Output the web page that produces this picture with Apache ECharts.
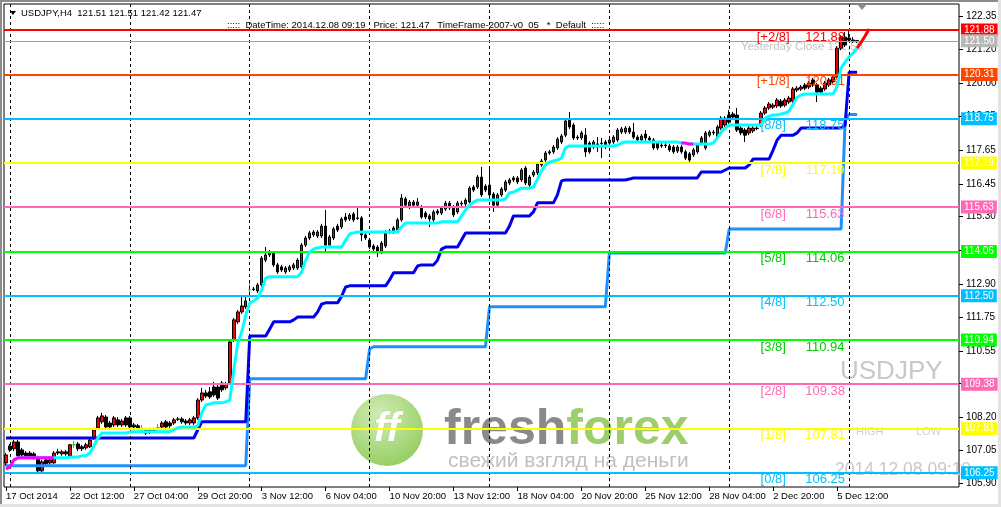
<!DOCTYPE html>
<html><head><meta charset="utf-8">
<script src="https://cdn.jsdelivr.net/npm/echarts@6/dist/echarts.min.js"></script>
<style>html,body{margin:0;padding:0;background:#fff;overflow:hidden}#c{width:1001px;height:507px}</style>
</head><body><div id="c"></div>
<script>
// ---------- data ----------
const xTickLabels = ['17 Oct 2014','22 Oct 12:00','27 Oct 04:00','29 Oct 20:00','3 Nov 12:00','6 Nov 04:00','10 Nov 20:00','13 Nov 12:00','18 Nov 04:00','20 Nov 20:00','25 Nov 12:00','28 Nov 04:00','2 Dec 20:00','5 Dec 12:00'];
const xTickEvery = 16;
const weekSeparators = [1, 31, 61, 91, 121, 151, 181, 211];
const yTicks = [105.90, 107.05, 108.20, 109.40, 110.55, 111.75, 112.90, 114.10, 115.30, 116.45, 117.65, 118.85, 120.00, 121.20, 122.35];
const slotCount = 239;

// [open, close, low, high]
const ohlc = [
[106.60,106.88,106.50,106.95],[107.20,107.06,106.99,107.27],[107.10,107.34,107.02,107.41],[107.34,106.85,106.78,107.41],
[107.06,106.88,106.81,107.13],[106.95,106.85,106.78,107.02],[106.95,106.81,106.74,107.02],[106.92,106.78,106.71,106.99],
[106.74,106.32,106.21,106.85],[106.32,106.64,106.21,106.71],[106.71,106.57,106.50,106.78],[106.60,106.71,106.53,106.78],
[106.60,106.95,106.57,107.02],[106.99,106.95,106.88,107.10],[106.92,106.99,106.85,107.06],[106.99,106.92,106.85,107.06],
[106.85,107.24,106.81,107.27],[107.24,107.24,107.13,107.38],[107.27,107.10,107.02,107.34],[107.17,107.10,107.02,107.24],
[107.13,107.24,107.06,107.31],[107.17,107.41,107.13,107.48],[107.48,107.77,107.41,107.84],[107.84,108.19,107.77,108.26],
[108.05,108.26,107.98,108.37],[108.22,107.87,107.80,108.29],[108.01,107.87,107.80,108.08],[107.94,108.19,107.87,108.26],
[108.12,107.94,107.87,108.22],[107.94,108.08,107.87,108.15],[108.19,107.94,107.87,108.26],[108.19,107.87,107.80,108.26],
[107.94,107.87,107.80,108.01],[107.91,107.84,107.77,107.98],[107.77,107.77,107.66,107.94],[107.77,107.66,107.59,107.84],
[107.77,107.70,107.62,107.84],[107.77,107.73,107.66,107.84],[107.84,107.84,107.70,107.98],[107.87,108.01,107.80,108.08],
[108.05,107.87,107.80,108.12],[108.01,107.91,107.84,108.08],[108.01,108.12,107.94,108.19],[108.15,108.14,108.08,108.22],
[108.15,108.05,107.98,108.22],[108.08,108.01,107.94,108.15],[108.01,108.12,107.94,108.19],[108.01,108.19,107.94,108.26],
[108.19,108.82,108.12,108.89],[108.82,109.07,108.75,109.25],[109.07,108.96,108.89,109.18],[109.11,108.93,108.86,109.28],
[109.28,109.00,108.93,109.46],[109.28,108.89,108.82,109.35],[109.42,109.18,109.11,109.49],[109.25,109.39,109.18,109.46],
[109.42,110.87,109.35,110.94],[110.94,111.65,110.87,111.72],[111.58,111.93,111.51,112.00],[111.93,112.14,111.86,112.49],
[112.11,112.32,112.04,112.46],[112.71,112.71,112.60,112.99],[112.74,112.72,112.67,112.81],[112.67,112.88,112.60,112.95],
[112.88,113.83,112.81,113.90],[113.76,113.94,113.69,114.22],[113.94,114.05,113.87,114.12],[114.01,113.59,113.52,114.08],
[113.59,113.34,113.27,113.66],[113.52,113.41,113.34,113.59],[113.34,113.48,113.27,113.55],[113.41,113.52,113.34,113.59],
[113.48,113.59,113.41,113.66],[113.48,113.76,113.41,113.83],[113.52,114.29,113.45,114.36],[114.29,114.54,114.22,114.61],
[114.54,114.72,114.47,114.79],[114.65,114.75,114.58,114.82],[114.61,114.75,114.54,114.82],[114.61,114.96,114.54,115.04],
[114.96,114.29,114.05,115.53],[114.29,114.58,114.22,114.65],[114.54,114.86,114.47,114.93],[114.96,114.82,114.75,115.04],
[114.93,115.21,114.86,115.28],[115.28,115.18,115.11,115.42],[115.21,115.35,115.14,115.42],[115.39,115.18,115.11,115.46],
[115.25,115.23,115.18,115.63],[115.25,114.65,114.43,115.32],[114.65,114.54,114.47,114.72],[114.47,114.22,114.15,114.54],
[114.26,114.15,114.08,114.33],[114.22,114.05,113.87,114.29],[114.05,114.36,113.98,114.43],[114.26,114.75,114.19,114.82],
[114.79,114.75,114.68,114.86],[114.75,114.89,114.68,114.96],[114.82,115.18,114.75,115.25],[115.18,115.95,115.11,116.09],
[115.92,115.70,115.63,115.99],[115.63,115.81,115.56,115.88],[115.81,115.70,115.63,115.88],[115.70,115.81,115.63,115.95],
[115.63,115.28,115.21,115.70],[115.42,115.28,115.21,115.49],[115.32,115.21,114.93,115.39],[115.18,115.46,115.11,115.53],
[115.49,115.42,115.35,115.56],[115.42,115.60,115.35,115.67],[115.56,115.77,115.49,115.85],[115.77,115.60,115.53,115.85],
[115.63,115.35,115.28,115.70],[115.46,115.77,115.39,115.85],[115.77,115.74,115.67,115.85],[115.74,115.88,115.67,115.95],
[115.81,116.30,115.74,116.37],[116.34,116.23,116.16,116.41],[116.34,116.69,116.27,116.76],[116.69,116.06,115.99,117.05],
[116.37,116.23,116.16,116.44],[116.41,116.06,115.95,117.05],[116.09,115.70,115.46,116.16],[115.70,116.06,115.63,116.13],
[116.06,116.27,115.99,116.34],[116.23,116.52,116.16,116.59],[116.48,116.59,116.41,116.66],[116.66,116.59,116.52,116.73],
[116.66,116.52,116.44,116.73],[116.59,116.94,116.52,117.01],[117.01,116.48,116.41,117.08],[116.41,116.69,116.34,116.76],
[116.76,116.87,116.69,116.94],[116.84,117.15,116.76,117.22],[117.12,117.26,117.05,117.33],[117.29,117.54,117.22,117.61],
[117.58,117.54,117.47,117.65],[117.58,117.75,117.51,117.82],[117.72,118.03,117.65,118.10],[117.93,118.14,117.86,118.21],
[118.17,118.67,118.10,118.74],[118.70,118.46,118.39,118.99],[118.53,118.07,118.00,118.60],[118.10,118.07,118.00,118.17],
[118.07,118.25,118.00,118.32],[118.17,117.58,117.40,118.42],[117.89,117.58,117.51,117.96],[117.75,117.93,117.68,118.00],
[117.86,117.75,117.58,118.10],[117.89,117.88,117.36,118.07],[117.93,117.75,117.68,118.00],[117.89,118.00,117.82,118.07],
[117.93,118.10,117.86,118.17],[118.00,118.35,117.93,118.42],[118.28,118.39,118.21,118.46],[118.28,118.42,118.21,118.49],
[118.42,118.28,118.21,118.49],[118.28,118.10,118.03,118.60],[118.10,118.00,117.93,118.17],[118.00,118.14,117.93,118.21],
[118.21,118.07,117.96,118.35],[118.07,118.00,117.93,118.14],[118.00,117.72,117.65,118.07],[117.89,117.72,117.65,117.96],
[117.82,117.79,117.72,117.89],[117.82,117.80,117.72,117.89],[117.79,117.65,117.58,117.86],[117.75,117.58,117.51,117.82],
[117.61,117.75,117.54,117.82],[117.75,117.58,117.51,117.82],[117.58,117.36,117.29,117.65],[117.51,117.29,117.22,117.58],
[117.47,117.65,117.40,117.72],[117.58,117.82,117.51,117.89],[117.89,118.07,117.82,118.14],[117.72,118.25,117.65,118.32],
[118.17,118.28,118.10,118.35],[118.28,118.25,118.17,118.35],[118.10,118.46,118.03,118.53],[118.42,118.77,118.35,118.84],
[118.53,118.77,118.46,118.84],[118.88,118.63,118.56,119.06],[118.92,118.81,118.74,118.99],[118.88,118.35,118.28,119.13],
[118.42,118.25,118.17,118.49],[118.35,118.17,117.93,118.42],[118.25,118.42,118.17,118.49],[118.32,118.42,118.25,118.49],
[118.42,118.40,118.35,118.49],[118.53,118.95,118.46,119.02],[118.95,119.13,118.88,119.20],[119.13,119.27,119.06,119.34],
[119.16,119.23,119.09,119.30],[119.20,119.41,119.13,119.48],[119.37,119.20,119.13,119.45],[119.23,119.41,119.16,119.48],
[119.34,119.48,119.27,119.55],[119.37,119.80,119.30,119.87],[119.76,119.83,119.69,119.90],[119.80,119.87,119.73,119.94],
[119.94,119.83,119.76,120.01],[119.87,120.01,119.80,120.08],[120.12,119.94,119.87,120.19],[119.94,119.69,119.34,120.01],
[119.83,119.69,119.62,119.90],[119.80,120.01,119.73,120.08],[119.94,120.12,119.87,120.19],[120.05,120.22,119.98,120.29],
[120.22,121.24,120.15,121.31],[121.24,121.63,121.17,121.70],[121.63,121.35,121.28,121.81],[121.60,121.53,121.46,121.88],
[121.53,121.49,121.42,121.63],[121.51,121.47,121.42,121.51]
];

const cyanLine = [
106.39,106.46,106.71,106.78,106.78,106.78,106.78,106.78,106.78,106.78,106.78,106.78,106.78,106.78,106.78,106.78,
106.80,106.81,106.81,106.85,106.85,106.95,107.20,107.48,107.66,107.66,107.66,107.66,107.66,107.66,107.66,107.68,
107.70,107.70,107.70,107.70,107.70,107.70,107.70,107.70,107.70,107.70,107.77,107.84,107.87,107.87,107.87,107.87,
107.91,108.37,108.65,108.68,108.72,108.72,108.72,108.75,108.82,109.87,110.82,111.22,111.82,112.25,112.32,112.42,
112.71,113.13,113.17,113.17,113.17,113.17,113.17,113.17,113.17,113.17,113.34,113.76,114.05,114.15,114.19,114.22,
114.22,114.22,114.22,114.22,114.22,114.47,114.68,114.72,114.75,114.75,114.75,114.75,114.75,114.75,114.75,114.75,
114.75,114.75,114.75,114.93,115.07,115.07,115.07,115.07,115.07,115.07,115.07,115.07,115.07,115.11,115.11,115.11,
115.11,115.11,115.32,115.53,115.70,115.81,115.88,115.88,115.88,115.88,115.88,115.88,115.88,115.92,116.13,116.16,
116.23,116.30,116.30,116.30,116.34,116.62,116.91,117.12,117.22,117.26,117.29,117.36,117.72,117.79,117.79,117.79,
117.79,117.79,117.79,117.79,117.79,117.79,117.79,117.79,117.79,117.82,117.89,117.93,117.93,117.93,117.93,117.93,
117.93,117.93,117.93,117.93,117.93,117.93,117.93,117.93,117.93,117.89,117.89,117.86,117.86,117.86,117.86,117.86,
117.86,117.89,118.07,118.28,118.42,118.53,118.53,118.53,118.53,118.53,118.53,118.53,118.53,118.53,118.77,118.84,
118.88,118.88,118.92,118.95,119.02,119.27,119.51,119.59,119.62,119.62,119.62,119.62,119.62,119.62,119.62,119.62,
119.90,120.54,120.75,120.93,121.07,121.24
];
const magentaA = [106.39,106.46,106.71,106.78,106.78,106.78,106.78,106.78,106.78,106.78,106.78,106.78,106.78];
const magentaAStart = 0;
const magentaB = [117.89,117.89,117.86,117.86];
const magentaBStart = 169;
const redTail = [121.24,121.45,121.67,121.92];
const redTailStart = 213;

const blueLine = [
107.48,107.48,107.48,107.48,107.48,107.48,107.48,107.48,107.48,107.48,107.48,107.48,107.48,107.48,107.48,107.48,
107.48,107.48,107.48,107.48,107.48,107.48,107.48,107.48,107.48,107.48,107.48,107.48,107.48,107.48,107.48,107.48,
107.48,107.48,107.48,107.48,107.48,107.48,107.48,107.48,107.48,107.48,107.48,107.48,107.48,107.48,107.48,107.48,
107.77,108.05,108.05,108.05,108.05,108.05,108.05,108.05,108.05,108.05,108.05,108.05,108.05,111.08,111.08,111.08,
111.08,111.08,111.33,111.58,111.58,111.58,111.58,111.58,111.65,111.75,111.75,111.75,111.75,111.75,111.93,112.21,
112.25,112.25,112.25,112.25,112.49,112.81,112.85,112.85,112.85,112.85,112.85,112.85,112.85,112.85,112.85,112.85,
113.06,113.31,113.31,113.31,113.31,113.31,113.31,113.55,113.59,113.59,113.59,113.59,113.76,114.15,114.22,114.22,
114.22,114.22,114.47,114.72,114.72,114.72,114.72,114.72,114.72,114.72,114.72,114.72,114.72,114.72,114.96,115.32,
115.32,115.32,115.32,115.32,115.46,115.78,115.78,115.78,115.78,115.78,116.06,116.55,116.59,116.59,116.59,116.59,
116.59,116.59,116.59,116.59,116.59,116.59,116.59,116.59,116.59,116.59,116.59,116.59,116.62,116.66,116.66,116.66,
116.66,116.66,116.66,116.66,116.66,116.66,116.66,116.66,116.66,116.66,116.66,116.66,116.66,116.66,116.87,116.87,
116.87,116.87,116.87,116.87,116.94,117.01,117.01,117.01,117.01,117.01,117.12,117.33,117.33,117.33,117.33,117.33,
117.65,118.00,118.17,118.17,118.17,118.17,118.25,118.42,118.42,118.42,118.42,118.42,118.42,118.42,118.42,118.42,
118.42,118.42,118.53,120.39,120.39,120.39
];

const dodgerLine = [
106.50,106.50,106.50,106.50,106.50,106.50,106.50,106.50,106.50,106.50,106.50,106.50,106.50,106.50,106.50,106.50,
106.50,106.50,106.50,106.50,106.50,106.50,106.50,106.50,106.50,106.50,106.50,106.50,106.50,106.50,106.50,106.50,
106.50,106.50,106.50,106.50,106.50,106.50,106.50,106.50,106.50,106.50,106.50,106.50,106.50,106.50,106.50,106.50,
106.50,106.50,106.50,106.50,106.50,106.50,106.50,106.50,106.50,106.50,106.50,106.50,106.50,109.57,109.57,109.57,
109.57,109.57,109.57,109.57,109.57,109.57,109.57,109.57,109.57,109.57,109.57,109.57,109.57,109.57,109.57,109.57,
109.57,109.57,109.57,109.57,109.57,109.57,109.57,109.57,109.57,109.57,109.57,110.62,110.70,110.70,110.70,110.70,
110.70,110.70,110.70,110.70,110.70,110.70,110.70,110.70,110.70,110.70,110.70,110.70,110.70,110.70,110.70,110.70,
110.70,110.70,110.70,110.70,110.70,110.70,110.70,110.70,110.70,112.11,112.11,112.11,112.11,112.11,112.11,112.11,
112.11,112.11,112.11,112.11,112.11,112.11,112.11,112.11,112.11,112.11,112.11,112.11,112.11,112.11,112.11,112.11,
112.11,112.11,112.11,112.11,112.11,112.11,112.11,114.01,114.01,114.01,114.01,114.01,114.01,114.01,114.01,114.01,
114.01,114.01,114.01,114.01,114.01,114.01,114.01,114.01,114.01,114.01,114.01,114.01,114.01,114.01,114.01,114.01,
114.01,114.01,114.01,114.01,114.01,114.86,114.86,114.86,114.86,114.86,114.86,114.86,114.86,114.86,114.86,114.86,
114.86,114.86,114.86,114.86,114.86,114.86,114.86,114.86,114.86,114.86,114.86,114.86,114.86,114.86,114.86,114.86,
114.86,114.86,118.69,118.90,118.90,118.90
];

const levelNames  = ['[0/8]','[1/8]','[2/8]','[3/8]','[4/8]','[5/8]','[6/8]','[7/8]','[8/8]','[+1/8]','[+2/8]'];
const levelValues = [106.25, 107.81, 109.38, 110.94, 112.50, 114.06, 115.63, 117.19, 118.75, 120.31, 121.88];
const levelColors = ['#00bfff','#ffff00','#ff69b4','#00ff00','#00bfff','#00ff00','#ff69b4','#ffff00','#00bfff','#ff4500','#ff0000'];
const levelTextColors = ['#00bfff','#ffff00','#ff69b4','#00c800','#00bfff','#00c800','#ff69b4','#ffff00','#00bfff','#ff4500','#ff0000'];
const yesterdayClose = 121.50;
const headerText = 'USDJPY,H4  121.51 121.51 121.42 121.47';
const infoText = ':::::  DateTime: 2014.12.08 09:19   Price: 121.47   TimeFrame-2007-v0_05   *  Default  :::::';

// ---------- chart ----------
const FONT = 'Liberation Sans';
const categories = Array.from({length: slotCount}, (_, i) => String(i));
function spread(arr, start) {
  const out = new Array(slotCount).fill(null);
  arr.forEach((v, i) => { out[start + i] = v; });
  return out;
}
const tickShown = (i) => i % xTickEvery === 0 && i / xTickEvery < xTickLabels.length;

const levelMarkLines = levelValues.map((v, i) => ({
  yAxis: v,
  lineStyle: {color: levelColors[i], width: 2, type: 'solid'},
  label: {show: true, position: 'end', distance: 2, formatter: v.toFixed(2), color: '#fff',
          backgroundColor: levelColors[i], padding: [2, 3, 1, 3], fontSize: 10, fontFamily: FONT, lineHeight: 10}
}));
levelMarkLines.push({
  yAxis: yesterdayClose,
  lineStyle: {color: '#a0a0a0', width: 1, type: 'solid'},
  label: {show: true, position: 'end', distance: 2, formatter: yesterdayClose.toFixed(2), color: '#fff',
          backgroundColor: '#b8b8b8', padding: [2, 3, 1, 3], fontSize: 10, fontFamily: FONT, lineHeight: 10}
});
const sepMarkLines = weekSeparators.map(i => ({
  xAxis: i, lineStyle: {color: '#000', width: 1, type: [3, 3]}, label: {show: false}
}));
const levelMarkPoints = [];
levelValues.forEach((v, i) => {
  levelMarkPoints.push({coord: [192, v], label: {formatter: levelNames[i], color: levelTextColors[i]}});
  levelMarkPoints.push({coord: [205, v], label: {formatter: v.toFixed(2), color: levelTextColors[i]}});
});

const chart = echarts.init(document.getElementById('c'), null, {renderer: 'canvas'});
chart.setOption({
  animation: false,
  backgroundColor: '#fff',
  textStyle: {fontFamily: FONT},
  grid: {left: 4, top: 4, right: 42, bottom: 20, show: true, borderColor: '#000', borderWidth: 1, backgroundColor: 'transparent'},
  xAxis: {
    type: 'category', data: categories, boundaryGap: true,
    axisLine: {show: false},
    axisTick: {show: true, alignWithLabel: true, interval: tickShown, length: 4, lineStyle: {color: '#000'}},
    axisLabel: {interval: tickShown, align: 'left', margin: 4, fontSize: 9.5, color: '#000', fontFamily: FONT,
                hideOverlap: false, formatter: (v, i) => xTickLabels[Math.round(i / xTickEvery)] || ''},
    splitLine: {show: false}
  },
  yAxis: {
    type: 'value', position: 'right', min: 105.75, max: 122.80, scale: true,
    axisLine: {show: false}, splitLine: {show: false},
    axisTick: {show: true, customValues: yTicks, length: 4, lineStyle: {color: '#000'}},
    axisLabel: {customValues: yTicks, formatter: v => v.toFixed(2), color: '#000', fontSize: 10, margin: 7, fontFamily: FONT}
  },
  graphic: [
    {type: 'rect', shape: {x: 0, y: 0, width: 1001, height: 2}, style: {fill: '#8c8c8c'}, z: 200, silent: true},
    {type: 'rect', shape: {x: 0, y: 0, width: 2, height: 507}, style: {fill: '#8c8c8c'}, z: 200, silent: true},
    {type: 'rect', shape: {x: 0, y: 504, width: 1001, height: 3}, style: {fill: '#e3e3e3'}, z: 200, silent: true},
    {type: 'rect', shape: {x: 998, y: 0, width: 3, height: 507}, style: {fill: '#e3e3e3'}, z: 200, silent: true},
    // header
    {type: 'polygon', shape: {points: [[10, 11], [16, 11], [13, 15]]}, style: {fill: '#000'}, z: 200},
    {type: 'text', x: 21, y: 13, style: {text: headerText, fill: '#000', font: '9.5px "Liberation Sans"', textVerticalAlign: 'middle'}, z: 200},
    {type: 'text', x: 227, y: 25, style: {text: infoText, fill: '#000', font: '9.5px "Liberation Sans"', textVerticalAlign: 'middle'}, z: 200},
    {type: 'polygon', shape: {points: [[857, 4], [867, 4], [862, 10]]}, style: {fill: '#8a8a8a'}, z: 200},
    // watermark texts
    {type: 'text', x: 741, y: 47, style: {text: 'Yesterday Close 121.50', fill: '#c4c4c4', font: '11.5px "Liberation Sans"', textVerticalAlign: 'middle'}, z: 0},
    {type: 'text', x: 840, y: 372, style: {text: 'USDJPY', fill: '#c8c8c8', font: '26px "Liberation Sans"', textVerticalAlign: 'middle'}, z: 0},
    {type: 'text', x: 856, y: 432, style: {text: 'HIGH', fill: '#d0d0d0', font: '11px "Liberation Sans"', textVerticalAlign: 'middle'}, z: 0},
    {type: 'text', x: 916, y: 432, style: {text: 'LOW', fill: '#d0d0d0', font: '11px "Liberation Sans"', textVerticalAlign: 'middle'}, z: 0},
    {type: 'text', x: 835, y: 470, style: {text: '2014.12.08 09:19', fill: '#c8c8c8', font: '17.5px "Liberation Sans"', textVerticalAlign: 'middle'}, z: 0},
    // FreshForex logo
    {type: 'circle', shape: {cx: 387, cy: 430, r: 36}, style: {fill: new echarts.graphic.RadialGradient(0.4, 0.3, 0.8, [{offset: 0, color: '#d2ecb5'}, {offset: 1, color: '#8fcb5a'}])}, z: 0},
    {type: 'text', x: 387, y: 430, style: {text: 'ff', fill: '#ffffff', font: 'italic bold 40px "Liberation Sans"', textAlign: 'center', textVerticalAlign: 'middle', stroke: '#a9d884', lineWidth: 1}, z: 0},
    {type: 'text', x: 444, y: 430, style: {text: '{a|fresh}{b|forex}', rich: {a: {fill: '#8a8a8a', font: 'bold 50px "Liberation Sans"'}, b: {fill: '#9ccf6c', font: 'bold 50px "Liberation Sans"'}}, textVerticalAlign: 'middle'}, z: 0},
    {type: 'text', x: 448, y: 461, style: {text: 'свежий взгляд на деньги', fill: '#c0c0c0', font: '21px "Liberation Sans"', textVerticalAlign: 'middle'}, z: 0}
  ],
  series: [
    {
      name: 'levels', type: 'line', data: [], silent: true, z: 1,
      markLine: {silent: true, symbol: ['none', 'none'], animation: false, data: sepMarkLines.concat(levelMarkLines)},
      markPoint: {silent: true, symbol: 'rect', symbolSize: 1, itemStyle: {color: 'transparent'}, animation: false,
        label: {show: true, position: 'bottom', distance: 0, fontSize: 13, fontFamily: FONT},
        data: levelMarkPoints}
    },
    {
      name: 'USDJPY', type: 'candlestick', data: ohlc, barWidth: 3, z: 3,
      itemStyle: {color: '#f00000', color0: '#000000', borderColor: '#000000', borderColor0: '#000000', borderColorDoji: '#00e000', borderWidth: 1}
    },
    {name: 'dodger', type: 'line', data: dodgerLine, showSymbol: false, z: 4, lineStyle: {color: '#1e90ff', width: 3}},
    {name: 'blue', type: 'line', data: blueLine, showSymbol: false, z: 4, lineStyle: {color: '#0000ee', width: 3}},
    {name: 'cyan', type: 'line', data: cyanLine, showSymbol: false, z: 5, lineStyle: {color: '#00ffff', width: 3}},
    {name: 'magentaA', type: 'line', data: spread(magentaA, magentaAStart), showSymbol: false, z: 6, lineStyle: {color: '#ff00ff', width: 3}},
    {name: 'magentaB', type: 'line', data: spread(magentaB, magentaBStart), showSymbol: false, z: 6, lineStyle: {color: '#ff00ff', width: 3}},
    {name: 'red', type: 'line', data: spread(redTail, redTailStart), showSymbol: false, z: 6, lineStyle: {color: '#ff0000', width: 3}}
  ]
});
</script>
</body></html>
